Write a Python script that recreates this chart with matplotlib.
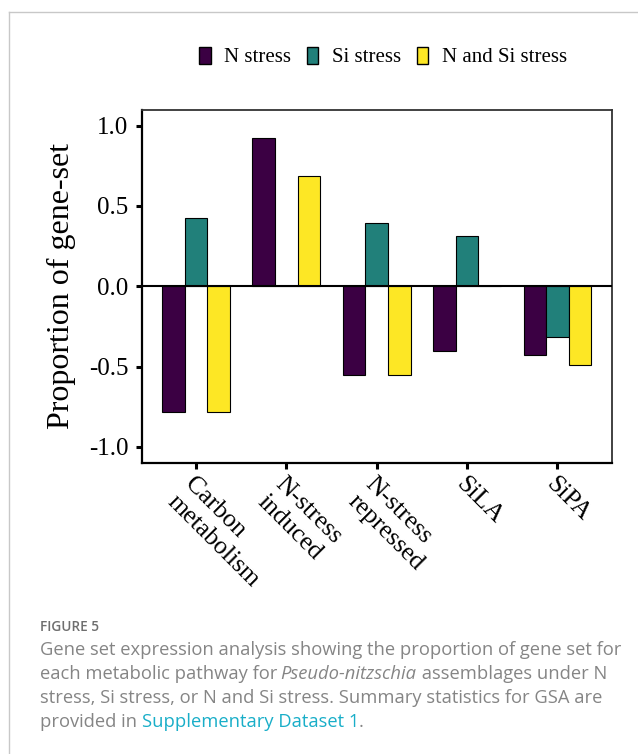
import numpy as np
import matplotlib
matplotlib.use("Agg")
import matplotlib.pyplot as plt
from matplotlib.patches import Patch
from matplotlib.lines import Line2D

# ---------------- data ----------------
categories = ["Carbon\nmetabolism", "N-stress\ninduced", "N-stress\nrepressed", "SiLA", "SiPA"]
series_names = ["N stress", "Si stress", "N and Si stress"]
n_stress = [-0.78, 0.92, -0.555, -0.405, -0.43]
si_stress = [0.425, 0.0, 0.395, 0.315, -0.315]
n_si_stress = [-0.78, 0.685, -0.555, 0.0, -0.49]
yticks = [-1.0, -0.5, 0.0, 0.5, 1.0]
ytick_labels = ["-1.0", "-0.5", "0.0", "0.5", "1.0"]
y_label = "Proportion of gene-set"
colors = ["#3b0043", "#21807a", "#fde725"]

W, H = 638, 754
SERIF = "Liberation Serif"
SANS = "Open Sans"

fig = plt.figure(figsize=(W / 100, H / 100), dpi=100)

# page frame lines
fig.add_artist(Line2D([9 / W, 1.0], [1 - 12 / H, 1 - 12 / H], color="#c8c8c8", lw=1.0))
fig.add_artist(Line2D([9 / W, 9 / W], [1 - 12 / H, 0.0], color="#c8c8c8", lw=1.0))

ax_l, ax_r, ax_t, ax_b = 141.7, 611.7, 109.5, 463.0
ax = fig.add_axes([ax_l / W, 1 - ax_b / H, (ax_r - ax_l) / W, (ax_b - ax_t) / H])

x = np.arange(1, len(categories) + 1)
width = 0.25
for i, (vals, c, name) in enumerate(zip([n_stress, si_stress, n_si_stress], colors, series_names)):
    ax.bar(x + (i - 1) * width, vals, width, color=c, edgecolor="black",
           linewidth=0.8, label=name, zorder=2)
ax.axhline(0, color="black", lw=1.5, zorder=3)

ax.set_xlim(0.4, 5.6)
ax.set_ylim(-1.1, 1.1)
ax.set_yticks(yticks)
ax.set_yticklabels(ytick_labels, fontsize=18, family=SERIF)
ax.set_xticks(x)
ax.set_xticklabels(categories, rotation=-45, ha="left", va="top",
                   rotation_mode="anchor", fontsize=18.5, family=SERIF,
                   multialignment="left", linespacing=1.15)
ax.tick_params(axis="both", length=4.5, width=2.2, color="black")
ax.tick_params(axis="y", pad=5)
ax.tick_params(axis="x", pad=3)

for s in ["left", "bottom"]:
    ax.spines[s].set_color("black")
    ax.spines[s].set_linewidth(1.6)
for s in ["top", "right"]:
    ax.spines[s].set_color("#333333")
    ax.spines[s].set_linewidth(1.3)

fig.text(61 / W, 1 - 286 / H, y_label, rotation=90, ha="center", va="center",
         fontsize=23, family=SERIF)

# legend
handles = [Patch(facecolor=c, edgecolor="black", linewidth=1.0) for c in colors]
fig.legend(handles, series_names, loc="center", bbox_to_anchor=(383 / W, 1 - 57 / H),
           ncol=3, frameon=False, prop={"family": SERIF, "size": 15},
           handlelength=0.55, handleheight=0.9, handletextpad=0.65,
           columnspacing=0.75, borderpad=0, borderaxespad=0)

# caption
renderer = fig.canvas.get_renderer()
cap_col = "#858585"
link_col = "#19aec8"
cfs = 13.2


def draw_runs(xpx, ypx, parts, fs=cfs):
    xx = xpx
    for txt, style, col, weight, nudge in parts:
        xx += nudge
        t = fig.text(xx / W, 1 - ypx / H, txt, fontsize=fs, family=SANS, style=style,
                     color=col, weight=weight, ha="left", va="baseline")
        bb = t.get_window_extent(renderer)
        xx += bb.width


draw_runs(40, 631, [("FIGURE 5", "normal", "#6e6e6e", "semibold", 0)], fs=9.8)
lines = [
    [("Gene set expression analysis showing the proportion of gene set for", "normal", cap_col, "normal", 0)],
    [("each metabolic pathway for ", "normal", cap_col, "normal", 0),
     ("Pseudo-nitzschia", "italic", cap_col, "normal", -1.5),
     (" assemblages under N", "normal", cap_col, "normal", 0)],
    [("stress, Si stress, or N and Si stress. Summary statistics for GSA are", "normal", cap_col, "normal", 0)],
    [("provided in ", "normal", cap_col, "normal", 0),
     ("Supplementary Dataset 1", "normal", link_col, "normal", 0),
     (".", "normal", cap_col, "normal", 0)],
]
for k, parts in enumerate(lines):
    draw_runs(40, 655 + 24 * k, parts)

fig.savefig("out.png", dpi=100)
